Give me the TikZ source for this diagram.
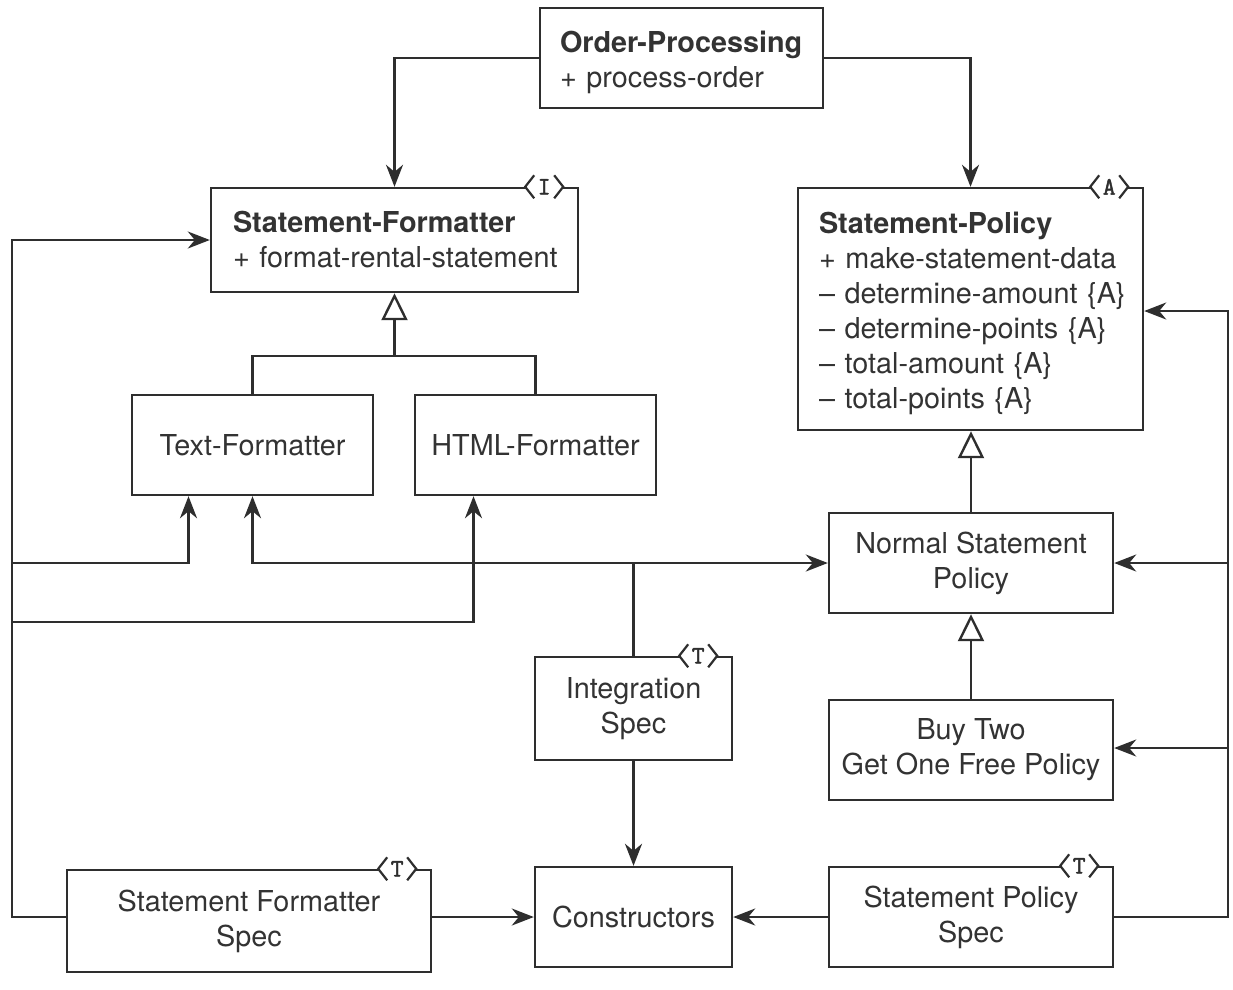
\documentclass[tikz,border=0pt]{standalone}
\usepackage{fontspec}
\setmainfont{TeX Gyre Heros}
\newfontfamily\tagfont{Latin Modern Mono}[FakeBold=1.8]
\usetikzlibrary{arrows.meta,calc}
\definecolor{ink}{HTML}{2E2E2E}
\definecolor{txt}{HTML}{333333}
\tikzset{
  box/.style={draw=ink, line width=2.4pt, fill=white, text=txt, inner sep=0pt,
    font=\fontsize{28.8}{35}\selectfont, align=center},
  ml/.style={execute at begin node={\rule{0pt}{29.5pt}}},
  lbox/.style={box, align=left},
  conn/.style={draw=ink, line width=2.4pt},
  arr/.style={conn, -{Stealth[length=22pt,width=17pt,inset=7pt]}},
  inh/.style={conn, -{Triangle[open,length=27pt,width=26pt,fill=white]}},
  tagline/.style={draw=ink, line width=2.2pt},
}
\newcommand\stereo[2]{%
  \fill[white] ($(#1.north east)+(-53,-2.5)$) rectangle ($(#1.north east)+(-17,2.5)$);
  \draw[tagline] ($(#1.north east)+(-45,-11.5)$) -- ($(#1.north east)+(-54,0)$) -- ($(#1.north east)+(-45,11.5)$);
  \draw[tagline] ($(#1.north east)+(-25,-11.5)$) -- ($(#1.north east)+(-16,0)$) -- ($(#1.north east)+(-25,11.5)$);
  \node[text=ink, inner sep=0pt, font=\fontsize{25}{25}\selectfont\tagfont] (#1-tag) at ($(#1.north east)+(-35,0)$) {#2};
}
\begin{document}
\begin{tikzpicture}[x=1pt,y=-1pt]
\useasboundingbox[fill=white] (0,0) rectangle (1233,989);
% nodes
\node[lbox, ml, minimum width=283pt, minimum height=100pt, text width=243pt, inner xsep=20pt] (op) at (681.5,58)
  {\mbox{\textbf{Order-Processing}}\\\mbox{+ process-order}};
\node[lbox, minimum width=367pt, minimum height=104pt, text width=323pt, inner xsep=22pt] (sfmt) at (394.5,240)
  {\mbox{\textbf{Statement-Formatter}}\\\mbox{+ format-rental-statement}};
\node[lbox, ml, minimum width=345pt, minimum height=242pt, text width=303pt, inner xsep=21pt] (sp) at (970.5,309)
  {\mbox{\textbf{Statement-Policy}}\\\mbox{+ make-statement-data}\\\mbox{– determine-amount \{A\}}\\\mbox{– determine-points \{A\}}\\\mbox{– total-amount \{A\}}\\\mbox{– total-points \{A\}}};
\node[box, minimum width=241pt, minimum height=100pt] (tf) at (252.5,445) {Text-Formatter};
\node[box, minimum width=241pt, minimum height=100pt] (hf) at (535.5,445) {HTML-Formatter};
\node[box, ml, minimum width=284pt, minimum height=100pt] (nsp) at (971,563) {Normal Statement\\Policy};
\node[box, ml, minimum width=197pt, minimum height=103pt] (is) at (633.5,708.5) {Integration\\Spec};
\node[box, ml, minimum width=284pt, minimum height=100pt] (btg) at (971,750) {Buy Two\\Get One Free Policy};
\node[box, ml, minimum width=364pt, minimum height=102pt] (sfs) at (249,921) {Statement Formatter\\Spec};
\node[box, minimum width=197pt, minimum height=100pt] (con) at (633.5,917) {Constructors};
\node[box, ml, minimum width=284pt, minimum height=100pt] (sps) at (971,917) {Statement Policy\\Spec};
% stereotypes
\stereo{sfmt}{I}
\stereo{sp}{A}
\stereo{is}{T}
\stereo{sfs}{T}
\stereo{sps}{T}
% helper coordinates
\coordinate (lb) at (12,0);
\coordinate (rb) at (1228,0);
\coordinate (tfa) at ($(tf.south)+(-64,0)$);
\coordinate (hfa) at ($(hf.south)+(-62,0)$);
\coordinate (hbus) at (12,622);
\coordinate (ibus) at (is.north |- nsp.west);
\coordinate (jn) at (sfmt.south |- 0,356);
% order processing
\draw[arr] (op.west) -| (sfmt.north);
\draw[arr] (op.east) -| (sp.north);
% inheritance
\draw[conn] (tf.north) |- (jn) -| (hf.north);
\draw[inh] (jn) -- (sfmt.south);
\draw[inh] (nsp.north) -- (nsp.north |- sp.south);
\draw[inh] (btg.north) -- (nsp.south);
% left bus
\draw[arr] (sfs.west |- con.west) -- (lb |- con.west) |- (sfmt.west);
\draw[arr] (lb |- nsp.west) -| (tfa);
\draw[arr] (hbus) -| (hfa);
% integration
\draw[arr] (ibus) -| (tf.south);
\draw[arr] (is.north) |- (nsp.west);
\draw[arr] (is.south) -- (con.north);
% constructors
\draw[arr] (sfs.east |- con.west) -- (con.west);
\draw[arr] (sps.west) -- (con.east);
% right bus
\draw[arr] (sps.east) -- (rb |- sps.east) |- ($(sp.east)+(0,2)$);
\draw[arr] (rb |- nsp.east) -- (nsp.east);
\draw[arr] (rb |- 0,748) -- (btg.east |- 0,748);
\end{tikzpicture}
\end{document}
